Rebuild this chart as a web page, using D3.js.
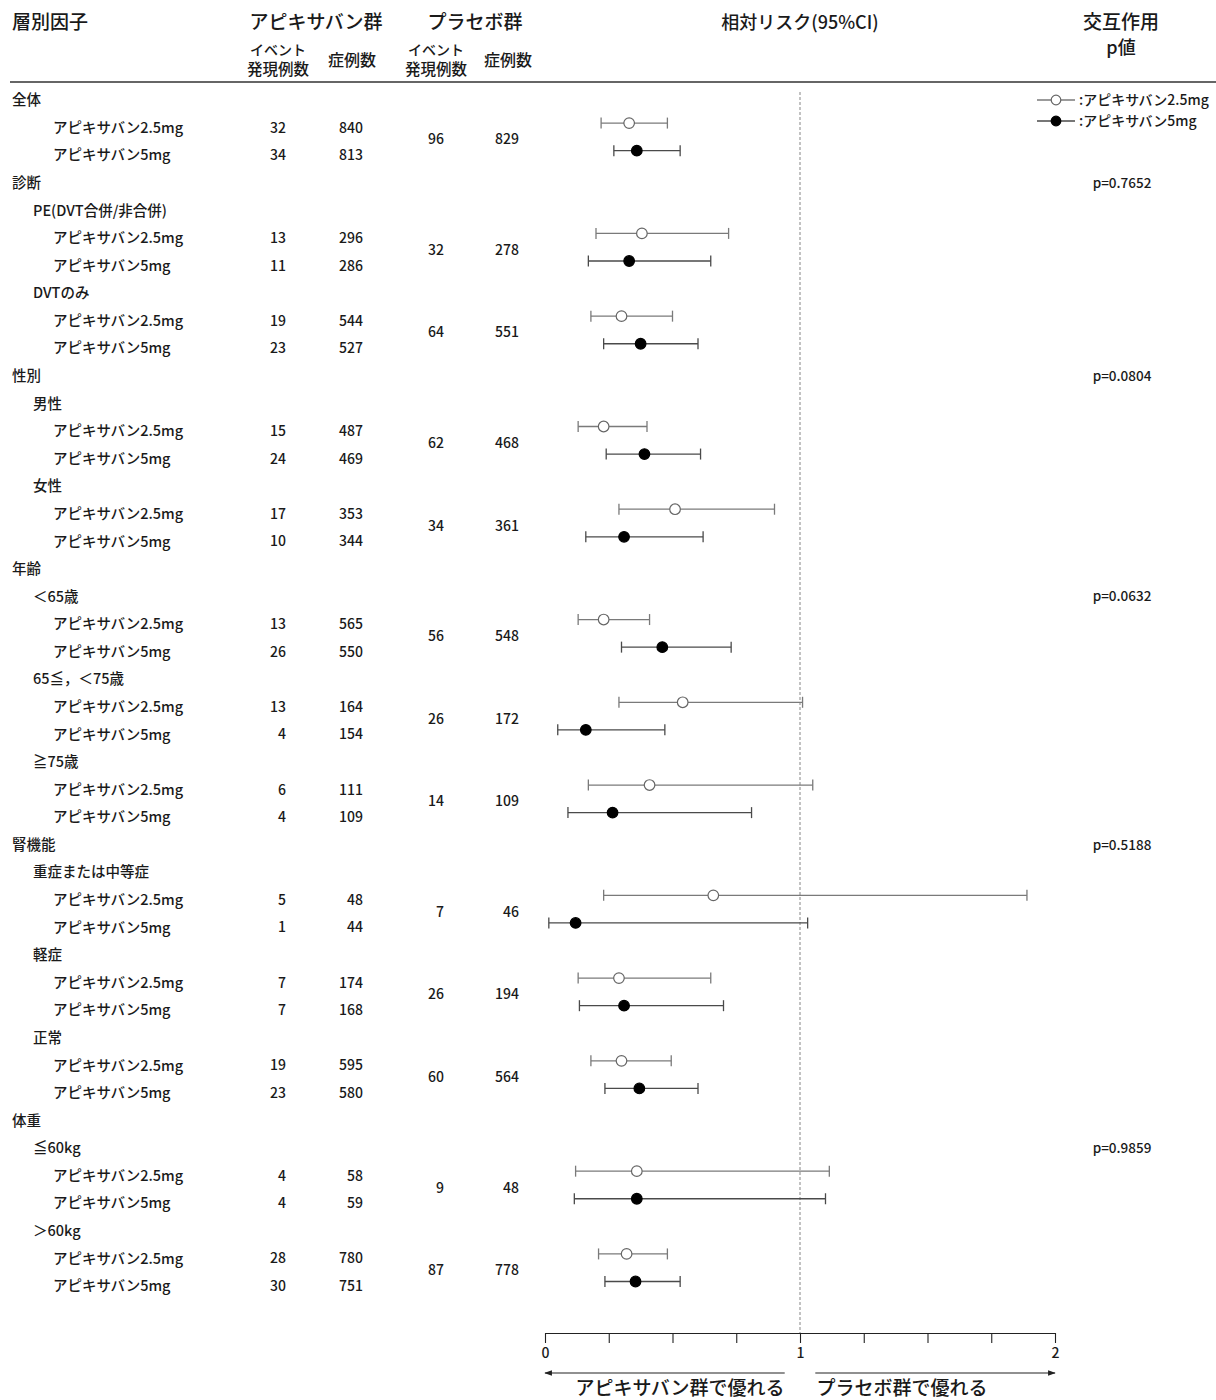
<!DOCTYPE html>
<html lang="ja">
<head>
<meta charset="utf-8">
<script src="https://cdn.jsdelivr.net/npm/d3@7"></script>
<style>
  html, body { margin: 0; padding: 0; background: #fff; }
  svg { display: block; font-family: "Noto Sans CJK JP", "Noto Sans", sans-serif; font-weight: 500; }
</style>
</head>
<body>
<svg id="chart" width="1216" height="1400"></svg>
<script>
// Subgroup rows (labels and indentation level: 0 = factor, 1 = subgroup, 2 = dose)
const rowLabels = [
  "全体", "アピキサバン2.5mg", "アピキサバン5mg",
  "診断", "PE(DVT合併/非合併)", "アピキサバン2.5mg", "アピキサバン5mg",
  "DVTのみ", "アピキサバン2.5mg", "アピキサバン5mg",
  "性別", "男性", "アピキサバン2.5mg", "アピキサバン5mg",
  "女性", "アピキサバン2.5mg", "アピキサバン5mg",
  "年齢", "＜65歳", "アピキサバン2.5mg", "アピキサバン5mg",
  "65≦，＜75歳", "アピキサバン2.5mg", "アピキサバン5mg",
  "≧75歳", "アピキサバン2.5mg", "アピキサバン5mg",
  "腎機能", "重症または中等症", "アピキサバン2.5mg", "アピキサバン5mg",
  "軽症", "アピキサバン2.5mg", "アピキサバン5mg",
  "正常", "アピキサバン2.5mg", "アピキサバン5mg",
  "体重", "≦60kg", "アピキサバン2.5mg", "アピキサバン5mg",
  "＞60kg", "アピキサバン2.5mg", "アピキサバン5mg"
];
const rowLevels = [
  0, 2, 2,
  0, 1, 2, 2,
  1, 2, 2,
  0, 1, 2, 2,
  1, 2, 2,
  0, 1, 2, 2,
  1, 2, 2,
  1, 2, 2,
  0, 1, 2, 2,
  1, 2, 2,
  1, 2, 2,
  0, 1, 2, 2,
  1, 2, 2
];
// Dose of each dose row: "2.5" (open circle) or "5" (filled circle)
const rowDose = rowLabels.map(l => l === "アピキサバン2.5mg" ? "2.5" : (l === "アピキサバン5mg" ? "5" : null));

// Apixaban group: events and patients per row
const apixEvents = [
  null, 32, 34,
  null, null, 13, 11,
  null, 19, 23,
  null, null, 15, 24,
  null, 17, 10,
  null, null, 13, 26,
  null, 13, 4,
  null, 6, 4,
  null, null, 5, 1,
  null, 7, 7,
  null, 19, 23,
  null, null, 4, 4,
  null, 28, 30
];
const apixCases = [
  null, 840, 813,
  null, null, 296, 286,
  null, 544, 527,
  null, null, 487, 469,
  null, 353, 344,
  null, null, 565, 550,
  null, 164, 154,
  null, 111, 109,
  null, null, 48, 44,
  null, 174, 168,
  null, 595, 580,
  null, null, 58, 59,
  null, 780, 751
];
// Placebo group (one value per pair of dose rows, shown between them)
const placeboEvents = [96, 32, 64, 62, 34, 56, 26, 14, 7, 26, 60, 9, 87];
const placeboCases = [829, 278, 551, 468, 361, 548, 172, 109, 46, 194, 564, 48, 778];

// Relative risk and 95% CI per row
const rrPoint = [
  null, 0.33, 0.36,
  null, null, 0.38, 0.33,
  null, 0.30, 0.375,
  null, null, 0.23, 0.39,
  null, 0.51, 0.31,
  null, null, 0.23, 0.46,
  null, 0.54, 0.16,
  null, 0.41, 0.265,
  null, null, 0.66, 0.12,
  null, 0.29, 0.31,
  null, 0.30, 0.37,
  null, null, 0.36, 0.36,
  null, 0.32, 0.355
];
const rrLow = [
  null, 0.22, 0.27,
  null, null, 0.20, 0.17,
  null, 0.18, 0.23,
  null, null, 0.13, 0.24,
  null, 0.29, 0.16,
  null, null, 0.13, 0.30,
  null, 0.29, 0.05,
  null, 0.17, 0.09,
  null, null, 0.23, 0.015,
  null, 0.13, 0.135,
  null, 0.18, 0.235,
  null, null, 0.12, 0.115,
  null, 0.21, 0.235
];
const rrHigh = [
  null, 0.48, 0.53,
  null, null, 0.72, 0.65,
  null, 0.50, 0.60,
  null, null, 0.40, 0.61,
  null, 0.90, 0.62,
  null, null, 0.41, 0.73,
  null, 1.01, 0.47,
  null, 1.05, 0.81,
  null, null, 1.89, 1.03,
  null, 0.65, 0.70,
  null, 0.495, 0.60,
  null, null, 1.115, 1.10,
  null, 0.48, 0.53
];
// Interaction p values (shown on the row they belong to)
const pValues = [
  null, null, null,
  "p=0.7652", null, null, null,
  null, null, null,
  "p=0.0804", null, null, null,
  null, null, null,
  null, "p=0.0632", null, null,
  null, null, null,
  null, null, null,
  "p=0.5188", null, null, null,
  null, null, null,
  null, null, null,
  null, "p=0.9859", null, null,
  null, null, null
];
const axisTicks = [0, 0.25, 0.5, 0.75, 1, 1.25, 1.5, 1.75, 2];
const legendItems = [
  { dose: "2.5", label: ":アピキサバン2.5mg" },
  { dose: "5", label: ":アピキサバン5mg" }
];

const svg = d3.select("#chart");
const ink = "#1a1a1a";

const x = d3.scaleLinear().domain([0, 2]).range([545, 1055]);
const y = d3.scaleLinear().domain([0, rowLabels.length - 1]).range([100, 1286]);
const indent = d3.scaleOrdinal().domain([0, 1, 2]).range([12, 33, 53]);

// ---- Header ----
const head = svg.append("g").attr("fill", ink);
head.append("text").attr("x", 12).attr("y", 29).attr("font-size", 19).text("層別因子");
head.append("text").attr("x", 316).attr("y", 29).attr("font-size", 19).attr("text-anchor", "middle").text("アピキサバン群");
head.append("text").attr("x", 475).attr("y", 29).attr("font-size", 19).attr("text-anchor", "middle").text("プラセボ群");
head.append("text").attr("x", 800).attr("y", 29).attr("font-size", 18).attr("text-anchor", "middle").text("相対リスク(95%CI)");
head.append("text").attr("x", 1121).attr("y", 29).attr("font-size", 19).attr("text-anchor", "middle").text("交互作用");
head.append("text").attr("x", 1121).attr("y", 54).attr("font-size", 18).attr("text-anchor", "middle").text("p値");
[278, 436].forEach(cx => {
  head.append("text").attr("x", cx).attr("y", 55).attr("font-size", 14).attr("text-anchor", "middle").text("イベント");
  head.append("text").attr("x", cx).attr("y", 75).attr("font-size", 15.5).attr("text-anchor", "middle").text("発現例数");
});
[352, 508].forEach(cx => {
  head.append("text").attr("x", cx).attr("y", 66).attr("font-size", 16).attr("text-anchor", "middle").text("症例数");
});
svg.append("line").attr("x1", 10).attr("x2", 1216).attr("y1", 82).attr("y2", 82)
  .attr("stroke", "#333").attr("stroke-width", 1.4);

// ---- Row labels and counts ----
const rows = d3.range(rowLabels.length);
const body = svg.append("g").attr("fill", ink);
body.selectAll("text.label").data(rows).join("text")
  .attr("class", "label")
  .attr("x", i => indent(rowLevels[i]))
  .attr("y", i => y(i))
  .attr("dy", "0.36em")
  .attr("font-size", 14.5)
  .text(i => rowLabels[i]);

body.selectAll("text.aev").data(rows.filter(i => apixEvents[i] != null)).join("text")
  .attr("class", "aev")
  .attr("x", 286).attr("y", i => y(i)).attr("dy", "0.36em")
  .attr("text-anchor", "end").attr("font-size", 14)
  .text(i => apixEvents[i]);
body.selectAll("text.acs").data(rows.filter(i => apixCases[i] != null)).join("text")
  .attr("class", "acs")
  .attr("x", 363).attr("y", i => y(i)).attr("dy", "0.36em")
  .attr("text-anchor", "end").attr("font-size", 14)
  .text(i => apixCases[i]);

// Placebo values sit between the 2.5 mg and 5 mg rows of each subgroup
const pairRows = rows.filter(i => rowDose[i] === "2.5");
const placebo = pairRows.map((r, k) => ({ row: r, ev: placeboEvents[k], n: placeboCases[k] }));
body.selectAll("text.pev").data(placebo).join("text")
  .attr("class", "pev")
  .attr("x", 444).attr("y", d => y(d.row + 0.5) - 2).attr("dy", "0.36em")
  .attr("text-anchor", "end").attr("font-size", 14)
  .text(d => d.ev);
body.selectAll("text.pcs").data(placebo).join("text")
  .attr("class", "pcs")
  .attr("x", 519).attr("y", d => y(d.row + 0.5) - 2).attr("dy", "0.36em")
  .attr("text-anchor", "end").attr("font-size", 14)
  .text(d => d.n);

body.selectAll("text.pval").data(rows.filter(i => pValues[i] != null)).join("text")
  .attr("class", "pval")
  .attr("x", 1122).attr("y", i => y(i)).attr("dy", "0.36em")
  .attr("text-anchor", "middle").attr("font-size", 13.5)
  .text(i => pValues[i]);

// ---- Reference line at RR = 1 ----
svg.append("line")
  .attr("x1", x(1)).attr("x2", x(1)).attr("y1", 92).attr("y2", 1333)
  .attr("stroke", "#9a9a9a").attr("stroke-width", 1.2).attr("stroke-dasharray", "3,2");

// ---- Confidence intervals and point estimates ----
const barColor = d => d === "2.5" ? "#7a7a7a" : "#4a4a4a";
const markY = i => y(i) - 4.5;
const est = rows.filter(i => rrPoint[i] != null);
const ci = svg.append("g").attr("fill", "none").attr("stroke-width", 1.3);
ci.selectAll("line.whisker").data(est).join("line")
  .attr("class", "whisker")
  .attr("x1", i => x(rrLow[i])).attr("x2", i => x(rrHigh[i]))
  .attr("y1", markY).attr("y2", markY)
  .attr("stroke", i => barColor(rowDose[i]));
ci.selectAll("line.capL").data(est).join("line")
  .attr("class", "capL")
  .attr("x1", i => x(rrLow[i])).attr("x2", i => x(rrLow[i]))
  .attr("y1", i => markY(i) - 5.5).attr("y2", i => markY(i) + 5.5)
  .attr("stroke", i => barColor(rowDose[i]));
ci.selectAll("line.capR").data(est).join("line")
  .attr("class", "capR")
  .attr("x1", i => x(rrHigh[i])).attr("x2", i => x(rrHigh[i]))
  .attr("y1", i => markY(i) - 5.5).attr("y2", i => markY(i) + 5.5)
  .attr("stroke", i => barColor(rowDose[i]));
svg.append("g").selectAll("circle").data(est).join("circle")
  .attr("cx", i => x(rrPoint[i])).attr("cy", markY).attr("r", 5.3)
  .attr("fill", i => rowDose[i] === "2.5" ? "#fff" : "#000")
  .attr("stroke", i => rowDose[i] === "2.5" ? "#666" : "#000")
  .attr("stroke-width", 1.2);

// ---- Legend ----
const legend = svg.append("g").selectAll("g").data(legendItems).join("g")
  .attr("transform", (d, k) => `translate(0,${100 + k * 21})`);
legend.append("line").attr("x1", 1037).attr("x2", 1075).attr("y1", 0).attr("y2", 0)
  .attr("stroke", d => barColor(d.dose)).attr("stroke-width", 1.3);
legend.append("circle").attr("cx", 1056).attr("cy", 0).attr("r", 4.8)
  .attr("fill", d => d.dose === "2.5" ? "#fff" : "#000")
  .attr("stroke", d => d.dose === "2.5" ? "#666" : "#000").attr("stroke-width", 1.2);
legend.append("text").attr("x", 1079).attr("y", 0).attr("dy", "0.36em")
  .attr("font-size", 14).attr("fill", ink).text(d => d.label);

// ---- Axis ----
const axis = d3.axisBottom(x)
  .tickValues(axisTicks)
  .tickSize(10)
  .tickSizeOuter(0)
  .tickPadding(5)
  .tickFormat(v => Number.isInteger(v) ? String(v) : "");
const ax = svg.append("g").attr("transform", "translate(0,1333)").call(axis);
ax.select(".domain").attr("stroke", "#222").attr("stroke-width", 1.2);
ax.selectAll(".tick line").attr("stroke", "#222").attr("stroke-width", 1.1);
ax.selectAll(".tick text").attr("font-size", 14).attr("fill", ink)
  .attr("font-family", "\"Noto Sans CJK JP\", sans-serif");

// Direction arrows and captions
const defs = svg.append("defs");
defs.append("marker").attr("id", "head").attr("viewBox", "0 0 10 10")
  .attr("refX", 9).attr("refY", 5).attr("markerWidth", 9).attr("markerHeight", 7)
  .attr("orient", "auto-start-reverse")
  .append("path").attr("d", "M0,1.5 L10,5 L0,8.5 Z").attr("fill", "#222");
svg.append("line").attr("x1", x(0.94)).attr("x2", x(0)).attr("y1", 1373).attr("y2", 1373)
  .attr("stroke", "#222").attr("stroke-width", 1.1).attr("marker-end", "url(#head)");
svg.append("line").attr("x1", x(1.06)).attr("x2", x(2)).attr("y1", 1373).attr("y2", 1373)
  .attr("stroke", "#222").attr("stroke-width", 1.1).attr("marker-end", "url(#head)");
svg.append("text").attr("x", 680).attr("y", 1395).attr("font-size", 19)
  .attr("text-anchor", "middle").attr("fill", ink).text("アピキサバン群で優れる");
svg.append("text").attr("x", 902).attr("y", 1395).attr("font-size", 19)
  .attr("text-anchor", "middle").attr("fill", ink).text("プラセボ群で優れる");
</script>
</body>
</html>
